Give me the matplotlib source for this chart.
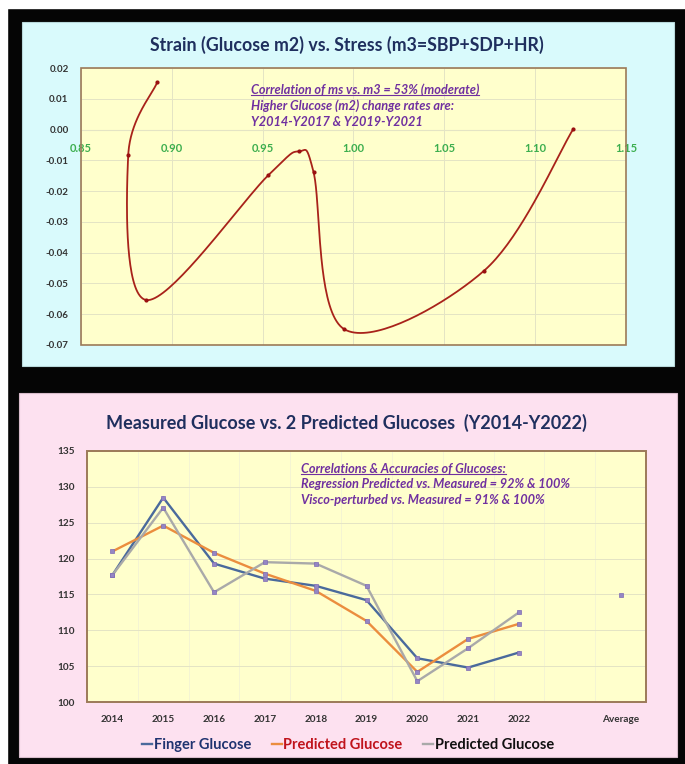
import numpy as np
import matplotlib
matplotlib.use("Agg")
from matplotlib import pyplot as plt
from matplotlib.patches import Rectangle
from matplotlib.lines import Line2D

# --- data -----------------------------------------------------------------
# strain (glucose m2) vs stress (m3), points for Y2014..Y2022
stress_m3 = [0.892, 0.876, 0.886, 0.953, 0.970, 0.978, 0.995, 1.072, 1.121]
strain_m2 = [0.0154, -0.0083, -0.0554, -0.0149, -0.0071, -0.0138, -0.0649, -0.0458, 0.0002]

categories = ["2014", "2015", "2016", "2017", "2018", "2019", "2020", "2021", "2022", "", "Average"]
finger_glucose = [117.7, 128.5, 119.3, 117.2, 116.2, 114.2, 106.1, 104.8, 106.9]
regression_glucose = [121.0, 124.6, 120.8, 117.9, 115.5, 111.3, 104.2, 108.8, 110.9]
visco_glucose = [117.7, 127.1, 115.3, 119.5, 119.3, 116.2, 102.9, 107.5, 112.5]
average_glucose = 114.9

top_notes = ["Correlation of ms vs. m3 = 53% (moderate)",
             "Higher Glucose (m2) change rates are:",
             "Y2014-Y2017 & Y2019-Y2021"]
bottom_notes = ["Correlations & Accuracies of Glucoses:",
                "Regression Predicted vs. Measured = 92% & 100%",
                "Visco-perturbed vs. Measured = 91% & 100%"]

# --- style ----------------------------------------------------------------
plt.rcParams["font.family"] = ["Lato", "DejaVu Sans"]
plt.rcParams["axes.unicode_minus"] = False

W, H = 685, 764
NAVY = "#1f2f5e"
PURPLE = "#7030a0"
YELLOW = "#ffffcc"
GRID = "#e4e4c4"
FRAME = "#9c7a58"
TICK = "#333333"


def px(x, y, w, h):
    """Прямоугольник в пикселях (сверху-слева) -> координаты фигуры."""
    return [x / W, (H - y - h) / H, w / W, h / H]


def smooth_line(ax, xs, ys, steps=40):
    """Сглаженная линия как в Excel (Безье через точки, в экранных координатах)."""
    pts = ax.transData.transform(np.column_stack([xs, ys]))
    p = np.vstack([pts[0], pts, pts[-1]])
    t = np.linspace(0, 1, steps)[:, None]
    segs = []
    for i in range(1, len(p) - 2):
        p0, p1, p2, p3 = p[i - 1], p[i], p[i + 1], p[i + 2]
        c1 = p1 + (p2 - p0) / 6
        c2 = p2 - (p3 - p1) / 6
        segs.append((1 - t) ** 3 * p1 + 3 * (1 - t) ** 2 * t * c1
                    + 3 * (1 - t) * t ** 2 * c2 + t ** 3 * p2)
    return ax.transData.inverted().transform(np.vstack(segs))


def underline(fig, text, color):
    fig.canvas.draw()
    bb = text.get_window_extent(fig.canvas.get_renderer())
    y = (bb.y0 + 1) / H
    fig.add_artist(Line2D([bb.x0 / W, bb.x1 / W], [y, y], color=color, lw=0.8,
                          transform=fig.transFigure))


fig = plt.figure(figsize=(W / 100, H / 100), dpi=100, facecolor="#050505")

# white strips on the screenshot edge
fig.add_artist(Rectangle((0, (H - 8) / H), 1, 8 / H, transform=fig.transFigure,
                         color="white", zorder=0))
fig.add_artist(Rectangle((0, 0), 7 / W, 1, transform=fig.transFigure,
                         color="white", zorder=0))

# panels
fig.add_artist(Rectangle(px(22, 22, 652, 344)[:2], 652 / W, 344 / H,
                         transform=fig.transFigure, facecolor="#d9fafc",
                         edgecolor="#b8d8da", lw=0.8, zorder=0))
fig.add_artist(Rectangle(px(19, 393, 658, 364)[:2], 658 / W, 364 / H,
                         transform=fig.transFigure, facecolor="#fde1f0",
                         edgecolor="#d8bccb", lw=0.8, zorder=0))

# --- top chart --------------------------------------------------------------
ax1 = fig.add_axes(px(81, 68, 545, 277), facecolor=YELLOW)
ax1.set_xlim(0.85, 1.15)
ax1.set_ylim(-0.07, 0.02)
ax1.set_xticks(np.arange(0.85, 1.151, 0.05))
ax1.set_yticks(np.arange(-0.07, 0.0201, 0.01))
ax1.xaxis.set_major_formatter("{x:.2f}")
ax1.yaxis.set_major_formatter("{x:.2f}")
ax1.grid(True, color=GRID, lw=0.7)
ax1.set_axisbelow(True)
for side in ("top", "left", "right"):
    ax1.spines[side].set_visible(False)
ax1.spines["bottom"].set_position(("data", 0))
ax1.spines["bottom"].set_color(GRID)
ax1.tick_params(axis="x", length=0, pad=10, labelsize=8, labelcolor="#3cae4e")
ax1.tick_params(axis="y", length=0, pad=9, labelsize=7, labelcolor=TICK)
for lab in ax1.get_xticklabels() + ax1.get_yticklabels():
    lab.set_fontweight("bold")
ax1.add_patch(Rectangle((0, 0), 1, 1, transform=ax1.transAxes, fill=False,
                        edgecolor=FRAME, lw=1.2, clip_on=False, zorder=5))

curve = smooth_line(ax1, stress_m3, strain_m2)
ax1.plot(curve[:, 0], curve[:, 1], color="#a8221a", lw=1.3, zorder=3)
ax1.plot(stress_m3, strain_m2, ls="none", marker="o", ms=2.0, color="#9a1010", zorder=4)

fig.text(347 / W, 1 - 45 / H, "Strain (Glucose m2) vs. Stress (m3=SBP+SDP+HR)",
         ha="center", va="center", fontsize=12.8, fontweight="bold", color=NAVY)

t_top = []
for i, line in enumerate(top_notes):
    t_top.append(fig.text(251 / W, 1 - (90 + 16 * i) / H, line, ha="left", va="center",
                          fontsize=9.2, fontweight="bold", fontstyle="italic", color=PURPLE))

# --- bottom chart -----------------------------------------------------------
ax2 = fig.add_axes(px(87, 451, 559, 251), facecolor=YELLOW)
pos = np.arange(len(categories))
ax2.set_xlim(-0.5, len(categories) - 0.5)
ax2.set_ylim(100, 135)
ax2.set_yticks(np.arange(100, 136, 5))
ax2.set_xticks(pos)
ax2.set_xticklabels(categories)
ax2.set_xticks(pos[:-1] + 0.5, minor=True)
ax2.grid(True, axis="y", color=GRID, lw=0.7)
ax2.grid(True, axis="x", which="minor", color="#f2f2d4", lw=0.6)
ax2.set_axisbelow(True)
for side in ax2.spines:
    ax2.spines[side].set_visible(False)
ax2.tick_params(which="both", length=0)
ax2.tick_params(axis="x", pad=9, labelsize=7.2, labelcolor=TICK)
ax2.tick_params(axis="y", pad=9, labelsize=7.2, labelcolor=TICK)
for lab in ax2.get_xticklabels() + ax2.get_yticklabels():
    lab.set_fontweight("bold")
ax2.add_patch(Rectangle((0, 0), 1, 1, transform=ax2.transAxes, fill=False,
                        edgecolor=FRAME, lw=1.4, clip_on=False, zorder=5))

series = [(finger_glucose, "#4a6a9c", "Finger Glucose", "#1f3370"),
          (regression_glucose, "#eb8d3e", "Predicted Glucose", "#c0141c"),
          (visco_glucose, "#a9a9a9", "Predicted Glucose", "#111111")]
mk = dict(marker="s", ms=2.2, mfc="#9486c4", mec="#7e6ab4", mew=0.5)
for values, color, _, _ in series:
    ax2.plot(pos[:len(values)], values, color=color, lw=1.7, **mk)
ax2.plot([pos[-1]], [average_glucose], ls="none", **mk)

fig.text(346 / W, 1 - 423 / H, "Measured Glucose vs. 2 Predicted Glucoses  (Y2014-Y2022)",
         ha="center", va="center", fontsize=13, fontweight="bold", color=NAVY)

t_bot = []
for i, line in enumerate(bottom_notes):
    t_bot.append(fig.text(301 / W, 1 - (469 + 15.5 * i) / H, line, ha="left", va="center",
                          fontsize=9.2, fontweight="bold", fontstyle="italic", color=PURPLE))

handles = [Line2D([], [], color=c, lw=1.7) for _, c, _, _ in series]
leg = fig.legend(handles, [s[2] for s in series], loc="center", ncol=3,
                 bbox_to_anchor=(348 / W, 1 - 745 / H), frameon=False,
                 handlelength=0.7, handletextpad=0.1, columnspacing=1.4,
                 prop={"size": 10.5, "weight": "bold"})
for txt, s in zip(leg.get_texts(), series):
    txt.set_color(s[3])

underline(fig, t_top[0], PURPLE)
underline(fig, t_bot[0], PURPLE)

fig.savefig("out.png", dpi=100, facecolor=fig.get_facecolor())
